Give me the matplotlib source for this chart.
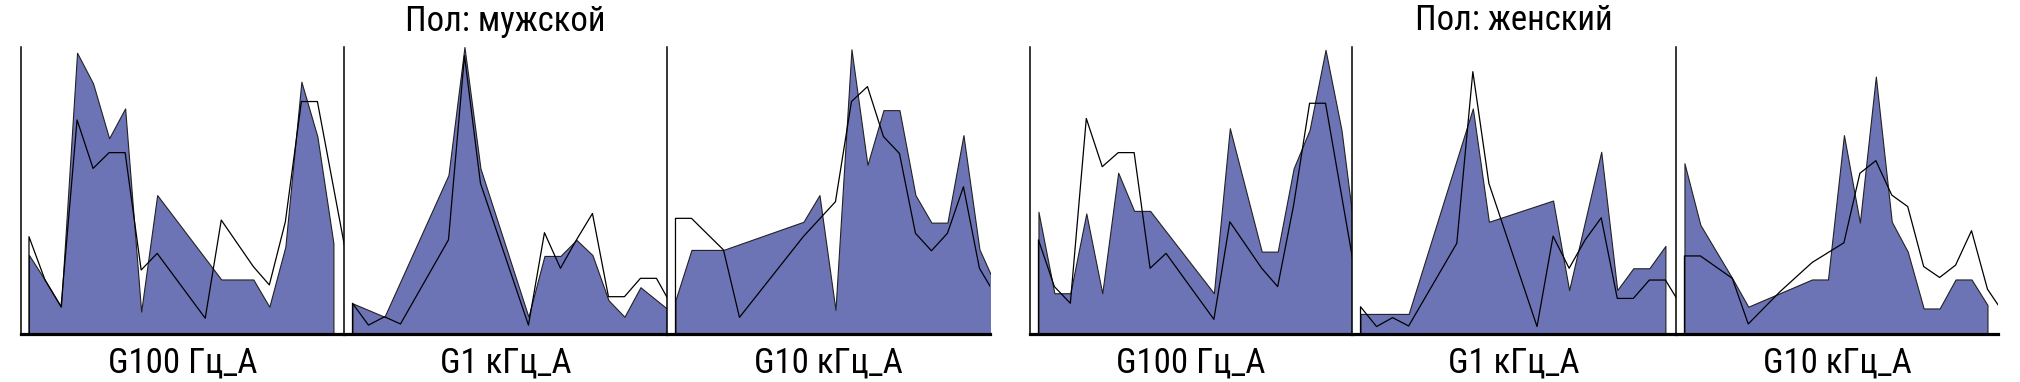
import matplotlib
matplotlib.use("Agg")
import matplotlib.pyplot as plt
from matplotlib import font_manager

# ---------------- data (x = bin index, y = % of axis height) ----------------
group_titles = ["Пол: мужской", "Пол: женский"]
panel_labels = ["G100 Гц_A", "G1 кГц_A", "G10 кГц_A"]

# male
m_g100_area_x = [0, 1, 2, 3, 4, 5, 6, 7, 8, 12, 14, 15, 16, 17, 18, 19]
m_g100_area_y = [27.5, 18.8, 9.5, 98.0, 87.3, 68.2, 78.6, 7.8, 48.4, 19.0, 19.0, 9.5, 30.4, 87.9, 68.8, 31.6]
m_g100_line_x = [0, 1, 2, 3, 4, 5, 6, 7, 8, 11, 12, 14, 15, 16, 17, 18, 20]
m_g100_line_y = [33.9, 18.8, 9.5, 74.6, 57.7, 63.2, 63.2, 22.3, 28.1, 5.5, 39.7, 23.5, 17.1, 39.1, 81.0, 81.0, 21.5]

m_g1_area_x = [0, 2, 6, 7, 8, 11, 12, 13, 14, 15, 16, 17, 18, 20]
m_g1_area_y = [10.7, 6.0, 55.4, 100.0, 57.7, 6.0, 27.2, 27.2, 32.8, 27.5, 11.8, 6.0, 16.3, 7.3]
m_g1_line_x = [0, 1, 2, 3, 6, 7, 8, 11, 12, 13, 14, 15, 16, 17, 18, 19, 20]
m_g1_line_y = [10.7, 3.1, 6.0, 3.5, 32.8, 97.0, 52.5, 3.1, 35.3, 22.9, 32.8, 42.0, 13.0, 13.0, 19.4, 19.4, 9.4]

m_g10_area_x = [0, 1, 3, 8, 9, 10, 11, 12, 13, 14, 15, 16, 17, 18, 19, 20]
m_g10_area_y = [11.8, 29.3, 29.3, 39.1, 48.4, 8.4, 99.2, 58.9, 78.0, 78.0, 48.4, 38.8, 38.8, 69.3, 29.5, 17.1]
m_g10_line_x = [0, 1, 3, 4, 8, 10, 11, 12, 13, 14, 15, 16, 17, 18, 19, 20]
m_g10_line_y = [40.3, 40.3, 29.3, 5.8, 34.0, 46.1, 81.0, 86.2, 68.8, 62.9, 35.1, 29.0, 35.1, 51.3, 22.9, 13.5]

# female
f_g100_area_x = [0, 1, 2, 3, 4, 5, 6, 7, 11, 12, 14, 15, 16, 17, 18, 19, 20]
f_g100_area_y = [42.6, 14.2, 14.2, 42.0, 14.2, 56.2, 42.9, 42.9, 14.2, 71.7, 28.7, 28.7, 57.7, 71.1, 99.0, 71.1, 27.4]
f_g100_line_x = [0, 1, 2, 3, 4, 5, 6, 7, 8, 11, 12, 14, 15, 16, 17, 18, 20]
f_g100_line_y = [32.8, 16.5, 10.7, 75.1, 58.3, 63.2, 63.2, 22.9, 28.1, 5.1, 39.1, 22.9, 16.5, 44.9, 80.4, 80.4, 16.5]

f_g1_area_x = [0, 3, 7, 8, 12, 13, 15, 16, 17, 18, 19]
f_g1_area_y = [7.0, 7.0, 78.6, 39.1, 46.5, 15.3, 63.5, 15.3, 22.9, 22.9, 30.7]
f_g1_line_x = [0, 1, 2, 3, 6, 7, 8, 11, 12, 13, 14, 15, 16, 17, 18, 19, 20]
f_g1_line_y = [9.5, 2.6, 5.7, 2.8, 31.6, 91.4, 52.5, 2.6, 34.1, 22.9, 32.8, 40.5, 12.4, 12.4, 18.8, 18.8, 9.7]

f_g10_area_x = [0, 1, 3, 4, 8, 9, 10, 11, 12, 13, 14, 15, 16, 17, 18, 19]
f_g10_area_y = [59.5, 38.0, 19.4, 9.5, 19.0, 19.0, 69.3, 38.8, 89.7, 39.1, 28.7, 8.9, 8.9, 19.0, 19.0, 10.1]
f_g10_line_x = [0, 1, 3, 4, 6, 8, 10, 11, 12, 13, 14, 15, 16, 17, 18, 19, 20]
f_g10_line_y = [27.2, 27.2, 19.4, 3.5, 14.8, 24.9, 31.8, 56.0, 60.4, 48.4, 44.4, 23.5, 19.7, 24.0, 36.0, 15.6, 7.4]

groups = [
    [(m_g100_area_x, m_g100_area_y, m_g100_line_x, m_g100_line_y),
     (m_g1_area_x, m_g1_area_y, m_g1_line_x, m_g1_line_y),
     (m_g10_area_x, m_g10_area_y, m_g10_line_x, m_g10_line_y)],
    [(f_g100_area_x, f_g100_area_y, f_g100_line_x, f_g100_line_y),
     (f_g1_area_x, f_g1_area_y, f_g1_line_x, f_g1_line_y),
     (f_g10_area_x, f_g10_area_y, f_g10_line_x, f_g10_line_y)],
]

# ---------------- style ----------------
installed = {f.name for f in font_manager.fontManager.ttflist}
fam = [f for f in ["Roboto Condensed", "Liberation Sans Narrow", "DejaVu Sans"] if f in installed]
stretch = "normal"
if fam and fam[0] == "DejaVu Sans":
    stretch = "condensed"
plt.rcParams["font.family"] = fam

AREA = "#6d74b5"
W, H = 2020, 382
fig = plt.figure(figsize=(W / 100, H / 100), dpi=100)

edges = [[20.5, 344, 667, 990], [1030, 1352, 1676, 1998]]
top_px, bot_px = 47, 334

for g, (title, panels) in enumerate(zip(group_titles, groups)):
    e = edges[g]
    for p, (ax_x, ax_y, ln_x, ln_y) in enumerate(panels):
        left = e[p] / W
        width = (e[p + 1] - e[p]) / W
        ax = fig.add_axes([left, (H - bot_px) / H, width, (bot_px - top_px) / H])
        ax.fill_between(ax_x, ax_y, 0, facecolor=AREA, edgecolor="#222222", linewidth=0.8, zorder=2)
        ax.fill_between(ln_x, ln_y, 0, facecolor="none", edgecolor="black", linewidth=0.9, zorder=3)
        ax.set_xlim(-0.53, 19.66)
        ax.set_ylim(0, 100)
        ax.set_xticks([])
        ax.set_yticks([])
        for s in ("top", "right"):
            ax.spines[s].set_visible(False)
        ax.spines["left"].set_linewidth(1.1)
        ax.spines["bottom"].set_linewidth(2.3)
        ax.spines["bottom"].set_zorder(5)
        ax.spines["left"].set_zorder(5)
        cx = (e[p] + e[p + 1]) / 2 / W
        fig.text(cx, 1 - 363 / H, panel_labels[p], ha="center", va="center",
                 fontsize=25, fontstretch=stretch)
    fig.text((e[0] + e[-1]) / 2 / W, 1 - 21 / H, title, ha="center", va="center",
             fontsize=25, fontstretch=stretch)

fig.savefig("out.png", dpi=100, facecolor="white")
